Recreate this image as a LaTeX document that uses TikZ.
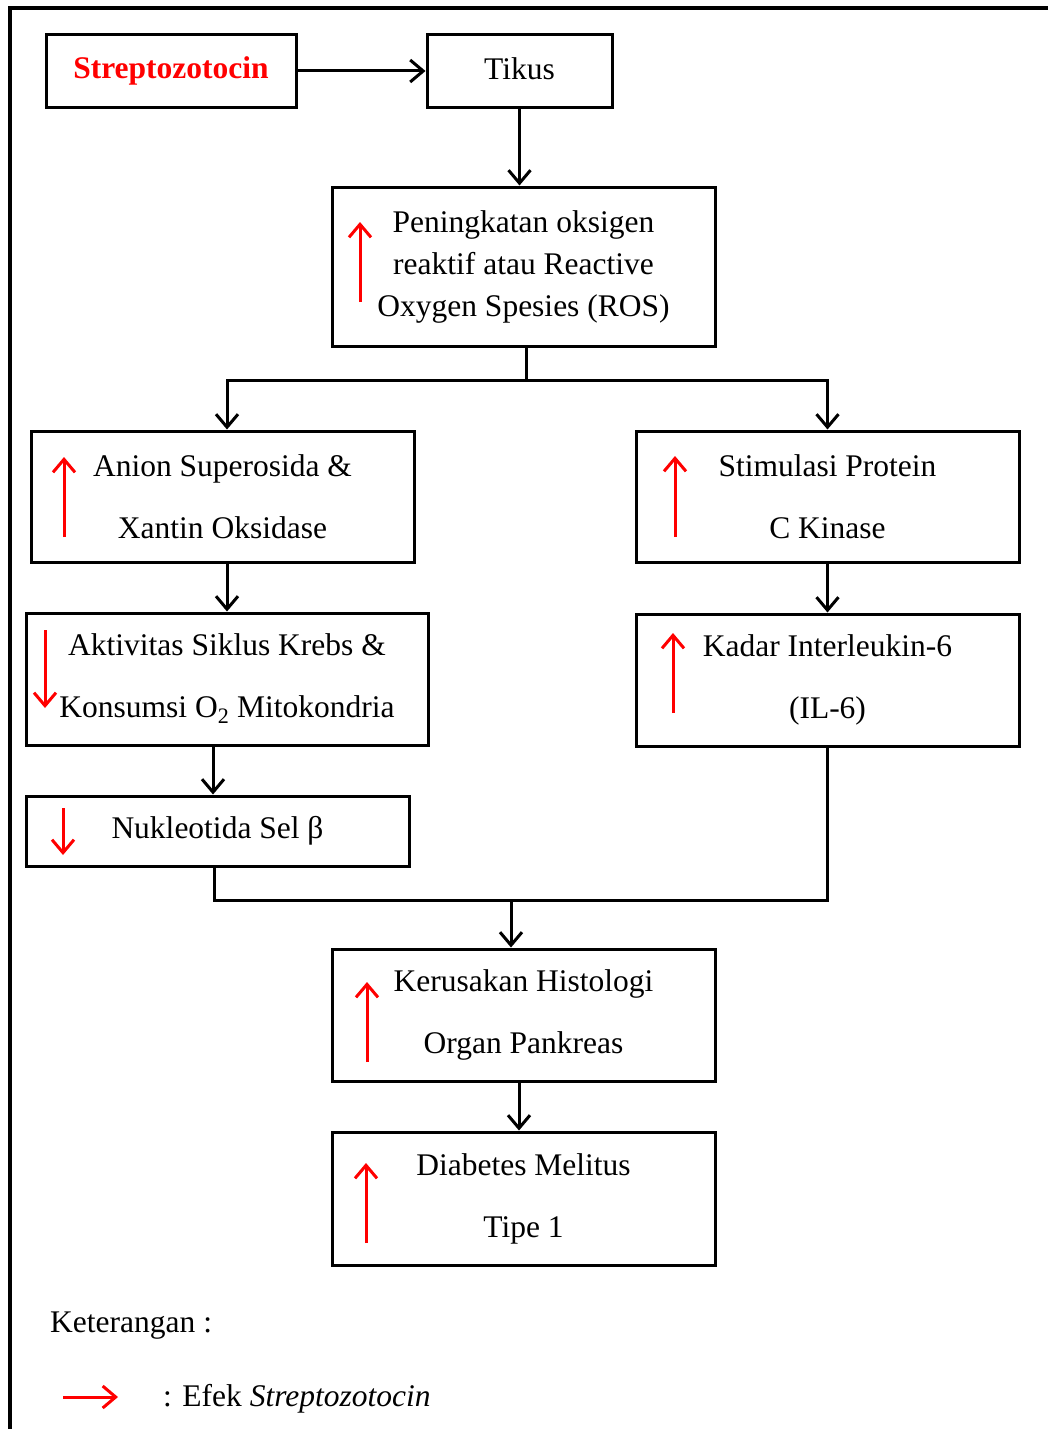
\documentclass[tikz,border=0pt]{standalone}
\usepackage{fontspec}
\setmainfont{Liberation Serif}
\usetikzlibrary{arrows.meta,calc}
\begin{document}
\begin{tikzpicture}[x=1pt,y=-1pt,
  txt/.style={font=\fontsize{31.5}{42}\selectfont, inner sep=0pt},
  box/.style={draw, line width=3pt, rectangle, align=center, inner sep=0pt, txt},
  arr/.style={line width=3pt, -{Straight Barb[length=13pt,width=22pt]}},
  redarr/.style={red, line width=3pt, -{Straight Barb[length=13pt,width=22pt]}},
  ]
\useasboundingbox (0,0) rectangle (1048,1429);
\draw[line width=3.5pt] (10,1429) -- (10,8) -- (1048,8);

% boxes
\node[box, text=red, minimum width=250pt, minimum height=72pt] (strep) at (171,71) {\raisebox{2pt}{\textbf{Streptozotocin}}};
\node[box, minimum width=185pt, minimum height=72pt] (tikus) at (519.5,71) {\raisebox{5pt}{Tikus}};
\node[box, minimum width=383pt, minimum height=159pt] (ros) at (523.5,266.5) {Peningkatan oksigen\\reaktif atau Reactive\\Oxygen Spesies (ROS)};
\node[box, minimum width=383pt, minimum height=131pt] (anion) at (222.5,496.5) {Anion Superosida \&\\[20pt]Xantin Oksidase};
\node[box, minimum width=383pt, minimum height=131pt] (stim) at (827.5,496.5) {Stimulasi Protein\\[20pt]C Kinase};
\node[box, minimum width=402pt, minimum height=132pt] (akt) at (227,679) {Aktivitas Siklus Krebs \&\\[20pt]Konsumsi O\textsubscript{2} Mitokondria};
\node[box, minimum width=383pt, minimum height=132pt] (kadar) at (827.5,680) {Kadar Interleukin-6\\[20pt](IL-6)};
\node[box, minimum width=383pt, minimum height=70pt] (nuk) at (217.5,831) {Nukleotida Sel β};
\node[box, minimum width=383pt, minimum height=132pt] (ker) at (523.5,1015) {Kerusakan Histologi\\[20pt]Organ Pankreas};
\node[box, minimum width=383pt, minimum height=133pt] (dm) at (523.5,1198.5) {Diabetes Melitus\\[20pt]Tipe 1};

% connectors
\coordinate (bus1) at (526,380);
\coordinate (bus2) at (511,900);
\coordinate (anionIn) at ($(anion.north)+(4.5,0)$);
\coordinate (nukIn) at ($(nuk.north)+(-4.5,0)$);
\coordinate (nukOut) at ($(nuk.south)+(-3.5,0)$);
\coordinate (dmIn) at ($(dm.north)+(-4.5,0)$);
\draw[arr] (strep) -- (tikus);
\draw[arr] (tikus.south) -- (tikus.south |- ros.north);
\draw[arr] (bus1 |- ros.south) -- (bus1) -| (anionIn);
\draw[arr] (bus1) -| (stim.north);
\draw[arr] (akt.north |- anion.south) -- (akt.north);
\draw[arr] (stim.south) -- (stim.south |- kadar.north);
\draw[arr] (nukIn |- akt.south) -- (nukIn);
\draw[line width=3pt] (nukOut) |- (bus2) -| (kadar.south);
\draw[arr] (bus2) -- (bus2 |- ker.north);
\draw[arr] (dmIn |- ker.south) -- (dmIn);

% red effect arrows
\draw[redarr] (360,302) -- (360,222);
\draw[redarr] (64,537) -- (64,457);
\draw[redarr] (675,537) -- (675,456);
\draw[redarr] (45,630) -- (45,708);
\draw[redarr] (673,713) -- (673,633);
\draw[redarr] (63,808) -- (63,855);
\draw[redarr] (367,1062) -- (367,982);
\draw[redarr] (366,1243) -- (366,1163);

% legend
\node[txt, anchor=west] (ket) at (50,1326) {Keterangan :};
\coordinate (legA) at (63,1397);
\coordinate (legB) at (118,1397);
\draw[redarr] (legA) -- (legB);
\node[txt, anchor=west] (legtxt) at (163,1399) {: Efek \textit{Streptozotocin}};
\end{tikzpicture}
\end{document}
